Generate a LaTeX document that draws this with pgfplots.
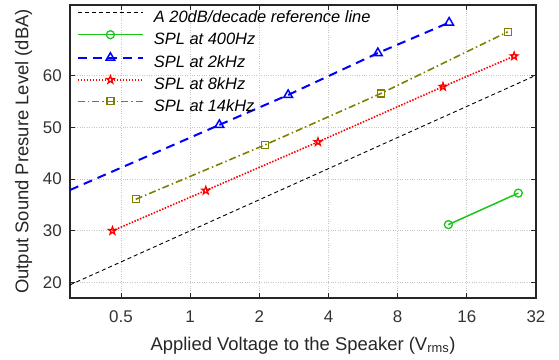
\documentclass[border=0pt]{standalone}
\usepackage{pgfplots}
\pgfplotsset{compat=1.18}
\usepackage{fontspec}
\setmainfont{Liberation Sans}
\definecolor{mgreen}{rgb}{0.1,0.78,0.1}
\definecolor{molive}{rgb}{0.5,0.5,0}
\definecolor{axgray}{rgb}{0.15,0.15,0.15}
\pgfdeclareplotmark{pentagram}{%
  \pgfpathmoveto{\pgfpointpolar{90}{\pgfplotmarksize}}%
  \pgfpathlineto{\pgfpointpolar{126}{0.4\pgfplotmarksize}}%
  \pgfpathlineto{\pgfpointpolar{162}{\pgfplotmarksize}}%
  \pgfpathlineto{\pgfpointpolar{198}{0.4\pgfplotmarksize}}%
  \pgfpathlineto{\pgfpointpolar{234}{\pgfplotmarksize}}%
  \pgfpathlineto{\pgfpointpolar{270}{0.4\pgfplotmarksize}}%
  \pgfpathlineto{\pgfpointpolar{306}{\pgfplotmarksize}}%
  \pgfpathlineto{\pgfpointpolar{342}{0.4\pgfplotmarksize}}%
  \pgfpathlineto{\pgfpointpolar{18}{\pgfplotmarksize}}%
  \pgfpathlineto{\pgfpointpolar{54}{0.4\pgfplotmarksize}}%
  \pgfpathclose\pgfusepathqstroke}
\begin{document}
\begin{tikzpicture}
\path[use as bounding box] (-70bp,-62bp) rectangle (489bp,298bp);
\begin{axis}[
  at={(0,0)}, anchor=south west,
  scale only axis, width=466bp, height=293bp,
  xmode=log, log basis x=2,
  xmin=0.3, xmax=32, ymin=17, ymax=73.7,
  xtick={0.5,1,2,4,8,16,32},
  xticklabels={0.5,1,2,4,8,16,32},
  ytick={20,30,40,50,60},
  yticklabels={20,30,40,50,60},
  tick align=inside, major tick length=5bp,
  minor tick num=0,
  xminorticks=false,
  axis line style={axgray, line width=1.2bp},
  tick style={axgray, line width=0.8bp},
  grid=major,
  major grid style={dotted, gray!45, line width=0.8bp},
  tick label style={font=\fontsize{17}{19}\selectfont, text=black!80},
  xticklabel style={anchor=base, yshift=-24.3bp, inner sep=0pt},
  yticklabel style={anchor=east, inner sep=0pt, xshift=-8bp},
  /pgf/number format/assume math mode=true,
  xlabel={Applied Voltage to the Speaker (V\textsubscript{rms})},
  ylabel={Output Sound Presure Level (dBA)},
  label style={font=\fontsize{18.5}{21}\selectfont, text=black!85},
  xlabel style={at={(axis description cs:0.5,0)}, anchor=base, yshift=-52bp, inner sep=0pt},
  ylabel style={at={(axis description cs:0,0.5)}, anchor=center, rotate=0, xshift=0bp},
  every axis y label/.append style={at={(axis description cs:-0.0998,0.5)}},
  legend cell align=left,
  legend style={at={(axis description cs:0,1)}, anchor=north west,
    xshift=6.7bp, yshift=-5.4bp, draw=none, fill=none, inner sep=0pt,
    column sep=10bp, row sep=4.6bp,
    font=\fontsize{16.5}{19}\selectfont\itshape,
    nodes={inner sep=0pt, text height=12bp, text depth=3.5bp}},
  legend image code/.code={%
    \draw[mark repeat=2,mark phase=2,#1] plot coordinates {(0bp,5.7bp) (32.5bp,5.7bp) (65bp,5.7bp)};},
]
\addplot[black, line width=0.9bp, dash pattern=on 4bp off 3bp] coordinates {(0.3,19.54) (32,60.1)};
\addlegendentry{A 20dB/decade reference line}
\addplot[mgreen, line width=1.5bp, mark=o, mark size=4bp, mark options={solid, line width=1.3bp}] coordinates {(13.3,31.2) (26.8,37.3)};
\addlegendentry{SPL at 400Hz}
\addplot[blue, line width=2bp, dash pattern=on 9bp off 6bp, forget plot] coordinates {(0.3,37.9) (1.34,50.5)};
\addplot[blue, line width=2bp, dash pattern=on 9bp off 6bp, mark=triangle, mark size=5bp, mark options={solid, line width=1.5bp}] coordinates {(1.34,50.5) (2.67,56.3) (6.56,64.4) (13.4,70.3)};
\addlegendentry{SPL at 2kHz}
\addplot[red, line width=1.6bp, dash pattern=on 1.5bp off 1.5bp, mark=pentagram, mark size=4bp, mark options={solid, line width=1.3bp}] coordinates {(0.459,30.0) (1.17,37.8) (3.6,47.2) (12.6,57.9) (25.7,63.8)};
\addlegendentry{SPL at 8kHz}
\addplot[molive, line width=1.6bp, dash pattern=on 7bp off 3bp on 1.5bp off 3bp, mark=square, mark size=3.5bp, mark options={solid, line width=1.3bp}] coordinates {(0.58,36.1) (2.11,46.6) (6.78,56.6) (24.1,68.5)};
\addlegendentry{SPL at 14kHz}
\end{axis}
\end{tikzpicture}
\end{document}
